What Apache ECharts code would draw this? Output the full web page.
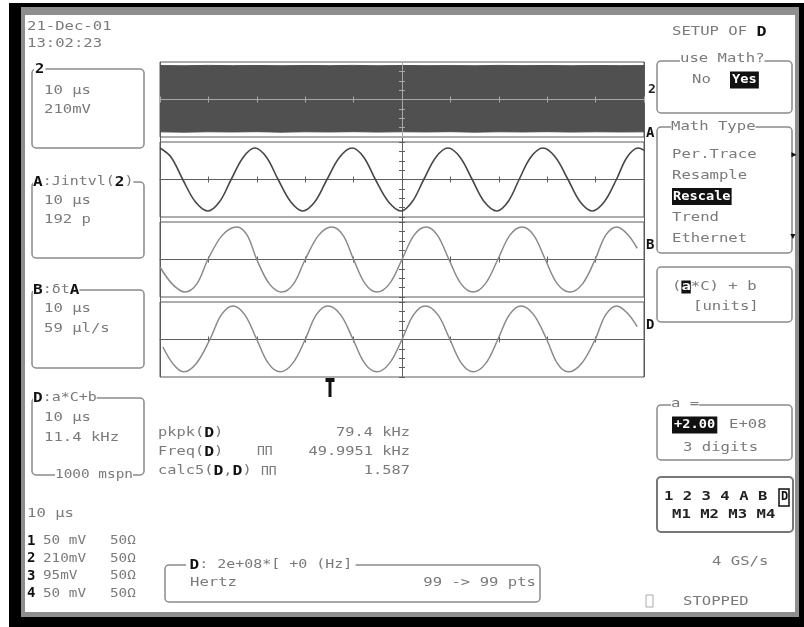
<!DOCTYPE html>
<html><head><meta charset="utf-8">
<script src="https://cdn.jsdelivr.net/npm/echarts/dist/echarts.min.js"></script>
<style>html,body{margin:0;padding:0;background:#fff}#c{width:804px;height:627px}</style>
</head><body><div id="c"></div>
<script>
// ---------------- data (divisions: x -5..5, y -4..4) ----------------
const noiseT     = [-5,-4.5,-4,-3.5,-3,-2.5,-2,-1.5,-1,-0.5,0,0.5,1,1.5,2,2.5,3,3.5,4,4.5,5];
const noiseUpper = [3.62,3.6,3.64,3.61,3.63,3.6,3.63,3.61,3.64,3.6,3.63,3.61,3.62,3.6,3.64,3.61,3.63,3.6,3.63,3.61,3.62];
const noiseLower = [-3.45,-3.48,-3.44,-3.46,-3.43,-3.48,-3.44,-3.46,-3.43,-3.47,-3.44,-3.46,-3.43,-3.48,-3.44,-3.46,-3.43,-3.47,-3.44,-3.46,-3.45];

const traceA_t = [-5.0,-4.77,-4.53,-4.27,-4.01,-3.77,-3.53,-3.28,-3.04,-2.8,-2.56,-2.3,-2.05,-1.8,-1.55,-1.29,-1.03,-0.79,-0.55,-0.28,-0.02,0.21,0.45,0.7,0.95,1.2,1.45,1.7,1.96,2.19,2.42,2.66,2.91,3.17,3.43,3.68,3.93,4.18,4.43,4.65,4.88,5.0];
const traceA_v = [3.36,2.38,0,-2.38,-3.36,-2.38,0,2.38,3.36,2.38,0,-2.38,-3.36,-2.38,0,2.38,3.36,2.38,0,-2.38,-3.36,-2.38,0,2.38,3.36,2.38,0,-2.38,-3.36,-2.38,0,2.38,3.36,2.38,0,-2.38,-3.36,-2.38,0,2.38,3.36,3.12];

const traceB_t = [-5.0,-4.74,-4.48,-4.24,-4.01,-3.71,-3.41,-3.2,-3.0,-2.74,-2.48,-2.24,-2.0,-1.72,-1.45,-1.22,-1.0,-0.76,-0.52,-0.26,0,0.25,0.5,0.73,0.97,1.22,1.47,1.72,1.98,2.23,2.48,2.72,2.96,3.21,3.47,3.73,3.99,4.21,4.44,4.65,4.86];
const traceB_v = [-0.8,-2.65,-3.47,-2.6,0,2.6,3.47,2.6,0,-2.6,-3.47,-2.6,0,2.6,3.47,2.6,0,-2.6,-3.47,-2.6,0,2.6,3.47,2.6,0,-2.6,-3.47,-2.6,0,2.6,3.47,2.6,0,-2.6,-3.47,-2.6,0,2.6,3.47,2.75,1.2];

const traceD_t = [-4.94,-4.73,-4.52,-4.25,-3.97,-3.73,-3.49,-3.25,-3.0,-2.76,-2.52,-2.26,-2.0,-1.77,-1.53,-1.27,-1.01,-0.77,-0.52,-0.26,0,0.24,0.48,0.74,0.99,1.23,1.47,1.73,1.98,2.22,2.46,2.72,2.99,3.21,3.43,3.71,3.99,4.21,4.44,4.65,4.86];
const traceD_v = [-0.8,-2.6,-3.45,-2.55,0,2.65,3.58,2.65,0,-2.55,-3.45,-2.55,0,2.65,3.58,2.65,0,-2.55,-3.45,-2.55,0,2.65,3.58,2.65,0,-2.55,-3.45,-2.55,0,2.65,3.58,2.65,0,-2.55,-3.45,-2.55,0,2.65,3.58,2.85,1.37];

const dateLines   = ['21-Dec-01', '13:02:23'];
const mathTypes   = ['Per.Trace', 'Resample', 'Rescale', 'Trend', 'Ethernet'];
const measNames   = ['pkpk(D)', 'Freq(D)', 'calc5(D,D)'];
const measValues  = ['79.4 kHz', '49.9951 kHz', '1.587'];
const chanRows    = [['1','50 mV','50Ω'],['2','210mV','50Ω'],['3','95mV','50Ω'],['4','50 mV','50Ω']];

// ---------------- helpers ----------------
const FONT = '"DejaVu Sans Mono", "Liberation Mono", monospace';
const GREY = '#7a7a7a';
function T(x, y, s, o) {
  o = o || {};
  const size = o.size || 13;
  return {
    type: 'text', x: x, y: y, scaleX: o.sx || 1.2, z: o.z || 50,
    style: {
      text: s,
      font: (o.bold ? 'bold ' : '') + size + 'px ' + FONT,
      fill: o.color || GREY,
      align: o.align || 'left', textAlign: o.align || 'left',
      verticalAlign: 'middle', textVerticalAlign: 'middle',
      backgroundColor: o.bg, padding: o.pad,
      rich: o.rich
    }
  };
}
function R(x, y, w, h, o) {
  o = o || {};
  return { type: 'rect', z: o.z || 40,
    shape: { x: x, y: y, width: w, height: h, r: o.r == null ? 4 : o.r },
    style: { fill: o.fill || 'none', stroke: o.stroke || '#8a8a8a', lineWidth: o.lw || 1.5 } };
}
const boldRich = {
  b: { font: 'bold 14px ' + FONT, fill: '#111' },
  n: { font: '13px ' + FONT, fill: GREY },
  w: { font: 'bold 13px ' + FONT, fill: '#fff', backgroundColor: '#111' }
};
function zip(a, b) { return a.map((v, i) => [v, b[i]]); }

// ---------------- grids ----------------
const GL = 160, GW = 484;
const panelTops = [62, 142, 222, 302];
const PH = 75;
const grids = [{ left: GL, top: 62, width: GW, height: 315, show: false }];
panelTops.forEach(t => grids.push({ left: GL, top: t, width: GW, height: PH, show: true,
  borderColor: '#5a5a5a', borderWidth: 1, backgroundColor: 'transparent' }));

const xAxes = [{ gridIndex: 0, type: 'value', min: -5, max: 5, interval: 5,
  axisLine: { show: false }, axisTick: { show: false }, axisLabel: { show: false },
  splitLine: { show: true, lineStyle: { color: '#5a5a5a', width: 1 } } }];
const yAxes = [{ gridIndex: 0, type: 'value', min: 0, max: 1, show: false }];

panelTops.forEach((t, i) => {
  const g = i + 1;
  const dark = i === 0;
  const col = dark ? '#a8a8a8' : '#5f5f5f';
  const z = dark ? 6 : 1;
  ['bottom', 'top'].forEach(pos => xAxes.push({
    gridIndex: g, type: 'value', min: -5, max: 5, interval: 1, position: pos, z: z,
    axisLine: { show: pos === 'bottom', onZero: true, lineStyle: { color: col, width: 1 } },
    axisTick: { show: true, inside: true, length: 3, lineStyle: { color: col } },
    axisLabel: { show: false }, splitLine: { show: false }
  }));
  ['left', 'right'].forEach(pos => yAxes.push({
    gridIndex: g, type: 'value', min: -4, max: 4, interval: 1, position: pos, z: z,
    axisLine: { show: pos === 'left', onZero: true, lineStyle: { color: col, width: 1 } },
    axisTick: { show: true, inside: true, length: 3, lineStyle: { color: col } },
    axisLabel: { show: false }, splitLine: { show: false }
  }));
});
function ax(panel) { return 1 + panel * 2; }

const series = [
  { type: 'line', xAxisIndex: ax(0), yAxisIndex: ax(0), data: zip(noiseT, noiseUpper), showSymbol: false,
    lineStyle: { width: 1, color: '#505050' }, areaStyle: { color: '#505050', opacity: 1, origin: 'auto' } },
  { type: 'line', xAxisIndex: ax(0), yAxisIndex: ax(0), data: zip(noiseT, noiseLower), showSymbol: false,
    lineStyle: { width: 1, color: '#505050' }, areaStyle: { color: '#505050', opacity: 1, origin: 'auto' } },
  { type: 'line', xAxisIndex: ax(1), yAxisIndex: ax(1), data: zip(traceA_t, traceA_v), showSymbol: false,
    smooth: 0.35, lineStyle: { width: 1.6, color: '#474747' } },
  { type: 'line', xAxisIndex: ax(2), yAxisIndex: ax(2), data: zip(traceB_t, traceB_v), showSymbol: false,
    smooth: 0.35, lineStyle: { width: 1.5, color: '#8a8a8a' } },
  { type: 'line', xAxisIndex: ax(3), yAxisIndex: ax(3), data: zip(traceD_t, traceD_v), showSymbol: false,
    smooth: 0.35, lineStyle: { width: 1.5, color: '#8a8a8a' } }
];

// ---------------- graphic (frame, panels, text) ----------------
const G = [];
G.push({ type: 'rect', z: -5, shape: { x: 9, y: 3, width: 795, height: 624 }, style: { fill: '#000' } });
G.push({ type: 'rect', z: -4, shape: { x: 21, y: 7, width: 778, height: 610 }, style: { fill: '#8e8e8e' } });
G.push({ type: 'rect', z: -3, shape: { x: 25, y: 15, width: 770, height: 597 }, style: { fill: '#fff' } });

G.push(T(27, 27, dateLines[0]));
G.push(T(27, 44, dateLines[1]));

G.push(R(32, 69, 112, 79));
G.push(T(34, 69, '2', { bold: true, color: '#111', size: 14, bg: '#fff', pad: [0, 1], z: 60, sx: 1.1 }));
G.push(T(44, 91, '10 μs'));
G.push(T(44, 110, '210mV'));

G.push(R(32, 182, 112, 76));
G.push(T(33, 182, '{b|A}{n|:Jintvl(}{b|2}{n|)}', { rich: boldRich, bg: '#fff', z: 60, sx: 1.15 }));
G.push(T(44, 201, '10 μs'));
G.push(T(44, 220, '192 p'));

G.push(R(32, 290, 112, 78));
G.push(T(33, 290, '{b|B}{n|:δt}{b|A}', { rich: boldRich, bg: '#fff', z: 60, sx: 1.15 }));
G.push(T(44, 309, '10 μs'));
G.push(T(44, 329, '59 μl/s'));

G.push(R(32, 398, 112, 77));
G.push(T(33, 398, '{b|D}{n|:a*C+b}', { rich: boldRich, bg: '#fff', z: 60, sx: 1.15 }));
G.push(T(44, 418, '10 μs'));
G.push(T(44, 438, '11.4 kHz'));
G.push(T(55, 475, '1000 mspn', { bg: '#fff', z: 60, size: 12, sx: 1.2 }));

G.push(T(27, 514, '10 μs'));
chanRows.forEach((r, i) => {
  const y = 541 + i * 17.5;
  G.push(T(27, y, r[0], { bold: true, color: '#111', size: 14, sx: 1.0 }));
  G.push(T(43, y, r[1], { sx: 1.1 }));
  G.push(T(110, y, r[2], { sx: 1.1 }));
});

G.push(T(648, 90, '2', { bold: true, color: '#222', size: 13, sx: 1 }));
G.push(T(646, 133, 'A', { bold: true, color: '#111', size: 14, sx: 1 }));
G.push(T(646, 245, 'B', { bold: true, color: '#111', size: 14, sx: 1 }));
G.push(T(646, 325, 'D', { bold: true, color: '#111', size: 14, sx: 1 }));

G.push({ type: 'rect', z: 50, shape: { x: 328.5, y: 381, width: 3, height: 16 }, style: { fill: '#111' } });
G.push({ type: 'rect', z: 50, shape: { x: 325.5, y: 378, width: 9, height: 4 }, style: { fill: '#111' } });

measNames.forEach((n, i) => {
  const y = 433 + i * 19;
  const nm = n.replace('(D', '({b|D}').replace(',D', ',{b|D}');
  G.push(T(158, y, '{n|' + nm.split('{b|D}').join('}{b|D}{n|') + '}', { rich: boldRich, sx: 1.18 }));
  G.push(T(410, y, measValues[i], { align: 'right', sx: 1.18 }));
});
G.push(T(257, 452, 'ΠΠ', { sx: 1.0 }));
G.push(T(261, 472, 'ΠΠ', { sx: 1.0 }));

G.push(R(165, 565, 375, 37));
G.push(T(186, 565, '{b|D}{n|: 2e+08*[ +0 (Hz]}', { rich: boldRich, bg: '#fff', pad: [0, 3], z: 60, sx: 1.15 }));
G.push(T(190, 583, 'Hertz'));
G.push(T(536, 583, '99 -> 99 pts', { align: 'right' }));

G.push(T(672, 32, '{n|SETUP OF }{b|D}', { rich: boldRich, sx: 1.2 }));
G.push(R(657, 61, 135, 52));
G.push(T(680, 59, 'use Math?', { bg: '#fff', z: 60 }));
G.push(T(692, 80, 'No'));
G.push(T(730, 80, 'Yes', { color: '#fff', bg: '#111', pad: [2, 2], bold: true, sx: 1.05 }));

G.push(R(657, 127, 135, 126));
G.push(T(671, 127, 'Math Type', { bg: '#fff', z: 60 }));
mathTypes.forEach((m, i) => {
  const y = 155 + i * 20.8;
  if (i === 2) G.push(T(672, y, m, { color: '#fff', bg: '#111', pad: [2, 1], bold: true, sx: 1.05 }));
  else G.push(T(672, y, m));
});
G.push(T(790, 155, '▸', { color: '#111', sx: 1 }));
G.push(T(789, 237, '▾', { color: '#111', sx: 1 }));

G.push(R(657, 267, 135, 55));
G.push(T(672, 287, '{n|(}{w|a}{n|*C) + b}', { rich: boldRich }));
G.push(T(693, 307, '[units]'));

G.push(R(657, 405, 135, 55));
G.push(T(671, 404, 'a =', { bg: '#fff', z: 60 }));
G.push(T(672, 425, '+2.00', { color: '#fff', bg: '#111', pad: [2, 2], bold: true, sx: 1.05 }));
G.push(T(729, 425, 'E+08'));
G.push(T(683, 448, '3 digits'));

G.push(R(657, 477, 136, 55, { lw: 2, stroke: '#777' }));
G.push(T(664, 497, '1 2 3 4 A B ', { bold: true, color: '#222', sx: 1.2 }));
G.push({ type: 'rect', z: 50, shape: { x: 779, y: 489, width: 10, height: 17 }, style: { fill: 'none', stroke: '#111', lineWidth: 1.5 } });
G.push(T(781, 497, 'D', { bold: true, color: '#111', size: 12, sx: 1 }));
G.push(T(672, 515, 'M1 M2 M3 M4', { bold: true, color: '#222', sx: 1.2 }));

G.push(T(712, 562, '4 GS/s'));
G.push({ type: 'rect', z: 50, shape: { x: 646, y: 595, width: 7, height: 12 }, style: { fill: 'none', stroke: '#aaa', lineWidth: 1 } });
G.push(T(683, 602, 'STOPPED'));

const chart = echarts.init(document.getElementById('c'), null, { renderer: 'canvas' });
chart.setOption({
  animation: false,
  backgroundColor: '#fff',
  grid: grids, xAxis: xAxes, yAxis: yAxes, series: series,
  graphic: { elements: G }
});
</script>
</body></html>
